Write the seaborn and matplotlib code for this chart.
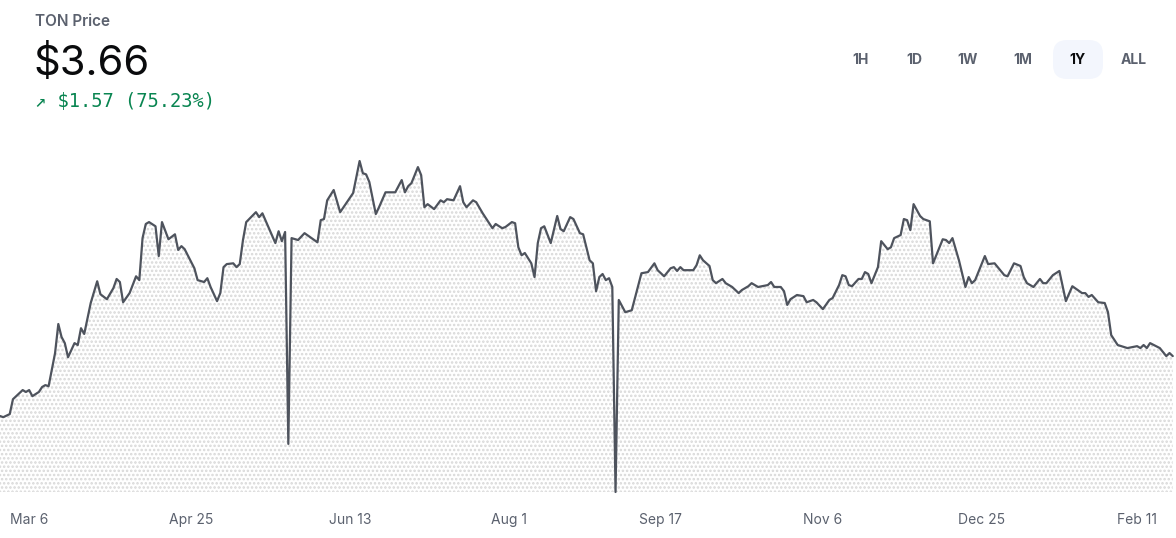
import matplotlib
matplotlib.use("Agg")
import matplotlib.pyplot as plt
from matplotlib.patches import FancyBboxPatch
import numpy as np
import pandas as pd
import seaborn as sns

# ---------------- data ----------------
start_date = "2024-02-26"
day_offsets = [
    0, 1, 3, 4, 6, 7, 8, 9, 10, 12, 13, 14, 15, 17, 18, 19, 20, 21, 23, 24,
    25, 26, 28, 30, 31, 33, 35, 36, 37, 38, 40, 42, 43, 44, 45, 46, 48, 49, 50, 52,
    54, 55, 56, 57, 60, 61, 63, 64, 65, 67, 68, 69, 70, 72, 73, 74, 75, 76, 79, 80,
    81, 83, 85, 86, 87, 88, 89, 90, 92, 94, 98, 99, 100, 101, 103, 105, 109, 111, 112, 113,
    114, 116, 117, 119, 122, 124, 125, 126, 127, 129, 130, 131, 132, 134, 136, 137, 138, 140, 142, 143,
    144, 146, 147, 149, 152, 153, 155, 156, 158, 159, 160, 161, 162, 164, 165, 166, 167, 168, 170, 172,
    173, 174, 176, 177, 179, 180, 182, 183, 184, 185, 186, 187, 188, 189, 190, 191, 193, 195, 198, 200,
    202, 203, 205, 207, 208, 209, 210, 211, 214, 215, 216, 217, 219, 220, 221, 223, 224, 226, 228, 229,
    231, 232, 234, 237, 238, 239, 241, 242, 243, 244, 246, 248, 249, 251, 252, 254, 256, 257, 259, 260,
    261, 262, 263, 265, 266, 267, 268, 269, 271, 272, 274, 275, 276, 278, 279, 280, 281, 282, 284, 285,
    287, 288, 291, 292, 293, 294, 296, 298, 299, 300, 301, 304, 305, 307, 310, 311, 313, 315, 316, 317,
    319, 321, 322, 323, 325, 327, 329, 331, 334, 335, 336, 337, 339, 341, 342, 343, 345, 348, 351, 352,
    353, 354, 355, 358, 360, 361, 362,
]
prices = [
    2.09, 2.06, 2.14, 2.53, 2.69, 2.77, 2.72, 2.77, 2.61, 2.72, 2.85, 2.90, 2.87, 3.74, 4.50, 4.16, 4.00, 3.63, 4.00, 3.95,
    4.39, 4.24, 5.05, 5.62, 5.28, 5.15, 5.44, 5.68, 5.60, 5.07, 5.31, 5.75, 5.65, 6.75, 7.12, 7.17, 7.06, 6.28, 7.17, 6.72,
    6.85, 6.44, 6.54, 6.46, 5.96, 5.65, 5.60, 5.70, 5.47, 5.10, 5.31, 5.99, 6.07, 6.09, 5.99, 6.07, 6.70, 7.17, 7.43, 7.30,
    7.40, 7.01, 6.62, 6.93, 6.67, 6.91, 1.36, 6.75, 6.70, 6.88, 6.64, 7.22, 7.25, 7.74, 8.01, 7.43, 7.93, 8.77, 8.45, 8.42,
    8.22, 7.38, 7.56, 7.95, 7.95, 8.27, 7.95, 8.11, 8.19, 8.61, 8.40, 7.56, 7.64, 7.51, 7.74, 7.69, 7.77, 7.74, 8.11, 7.69,
    7.56, 7.74, 7.69, 7.40, 7.01, 7.12, 7.01, 7.04, 7.17, 7.14, 6.51, 6.30, 6.36, 6.09, 5.73, 6.62, 7.01, 7.06, 6.62, 7.33,
    6.99, 6.93, 7.30, 7.25, 6.88, 6.85, 6.17, 6.09, 5.36, 5.73, 5.81, 5.65, 5.70, 5.47, 0.10, 5.13, 4.81, 4.86, 5.83, 5.86,
    6.09, 5.91, 5.75, 5.96, 5.99, 5.89, 5.99, 5.91, 5.91, 6.04, 6.30, 6.17, 6.02, 5.65, 5.57, 5.68, 5.57, 5.47, 5.31, 5.39,
    5.49, 5.57, 5.47, 5.52, 5.60, 5.47, 5.47, 5.36, 5.00, 5.15, 5.26, 5.23, 5.07, 5.13, 5.07, 4.89, 5.13, 5.18, 5.52, 5.78,
    5.75, 5.52, 5.49, 5.68, 5.68, 5.86, 5.81, 5.57, 5.99, 6.67, 6.46, 6.51, 6.75, 6.83, 7.25, 7.22, 6.96, 7.64, 7.33, 7.25,
    7.19, 6.09, 6.72, 6.70, 6.62, 6.75, 6.17, 5.47, 5.73, 5.57, 5.65, 6.28, 6.07, 6.09, 5.78, 5.75, 6.09, 6.02, 5.73, 5.57,
    5.47, 5.68, 5.57, 5.57, 5.78, 5.89, 5.10, 5.49, 5.31, 5.31, 5.21, 5.26, 5.07, 5.05, 4.81, 4.21, 3.95, 3.87, 3.92, 3.87,
    3.95, 3.87, 4.00, 3.87, 3.66, 3.74, 3.66,
]
tick_dates = ["2024-03-06", "2024-04-25", "2024-06-13", "2024-08-01",
              "2024-09-17", "2024-11-06", "2024-12-25", "2025-02-11"]
tick_labels = ["Mar 6", "Apr 25", "Jun 13", "Aug 1", "Sep 17", "Nov 6", "Dec 25", "Feb 11"]
range_buttons = ["1H", "1D", "1W", "1M", "1Y", "ALL"]
selected_range = "1Y"
title = "TON Price"
price_text = "$3.66"
change_text = "\u2197 $1.57 (75.23%)"
span_days = 363

# ---------------- styling ----------------
W, H = 1176, 538
DPI = 100
LINE = "#4e535d"
GRAY = "#5b616e"
GREEN = "#098551"

sns.set_theme(style="white")
plt.rcParams["font.family"] = ["Inter", "DejaVu Sans"]
plt.rcParams["hatch.linewidth"] = 1.2

df = pd.DataFrame({
    "date": pd.Timestamp(start_date) + pd.to_timedelta(day_offsets, unit="D"),
    "price": prices,
})

fig = plt.figure(figsize=(W / DPI, H / DPI), dpi=DPI, facecolor="white")

def px(x, y):
    return x / W, 1 - y / H

ax_left, ax_right, ax_top, ax_bottom = 0, 1176, 161, 492
ax = fig.add_axes([ax_left / W, 1 - ax_bottom / H, (ax_right - ax_left) / W, (ax_bottom - ax_top) / H])
ax.set_facecolor("none")

ymin, ymax = min(prices), max(prices)
ax.fill_between(df["date"], df["price"], ymin, facecolor="none",
                edgecolor="#d8d8d8", hatch="....", linewidth=0)
sns.lineplot(data=df, x="date", y="price", ax=ax, color=LINE, linewidth=1.6,
             estimator=None, clip_on=False)

ax.set_xlim(pd.Timestamp(start_date), pd.Timestamp(start_date) + pd.Timedelta(days=span_days))
ax.set_ylim(ymin, ymax)
ax.set_xticks(pd.to_datetime(tick_dates))
ax.set_xticklabels(tick_labels, color=GRAY, fontsize=10)
ax.tick_params(axis="x", length=0, pad=15)
ax.set_yticks([])
ax.set_xlabel("")
ax.set_ylabel("")
for s in ax.spines.values():
    s.set_visible(False)

# ---------------- header ----------------
fig.text(*px(35, 22), title, color=GRAY, fontsize=11, fontweight="semibold", va="center", ha="left")
fig.text(*px(33, 64), price_text, color="#0a0b0d", fontsize=30, va="center", ha="left")
fig.text(*px(35, 101), change_text, color=GREEN, fontsize=13.5, va="center", ha="left",
         family=["DejaVu Sans Mono", "DejaVu Sans"])

# range buttons
btn_x = [861, 914, 968, 1023, 1077, 1134]
for label, bx in zip(range_buttons, btn_x):
    sel = label == selected_range
    if sel:
        x0, y0 = px(1053, 79)
        x1, y1 = px(1103, 40)
        fig.patches.append(FancyBboxPatch((x0, y0), x1 - x0, y1 - y0,
                                          boxstyle="round,pad=0,rounding_size=0.012",
                                          transform=fig.transFigure, facecolor="#f3f6fd",
                                          edgecolor="none", mutation_aspect=W / H))
    fig.text(*px(bx, 60), label, color="#0a0b0d" if sel else GRAY, fontsize=10,
             fontweight="bold", va="center", ha="center")

fig.savefig("out.png", dpi=DPI, facecolor="white")
